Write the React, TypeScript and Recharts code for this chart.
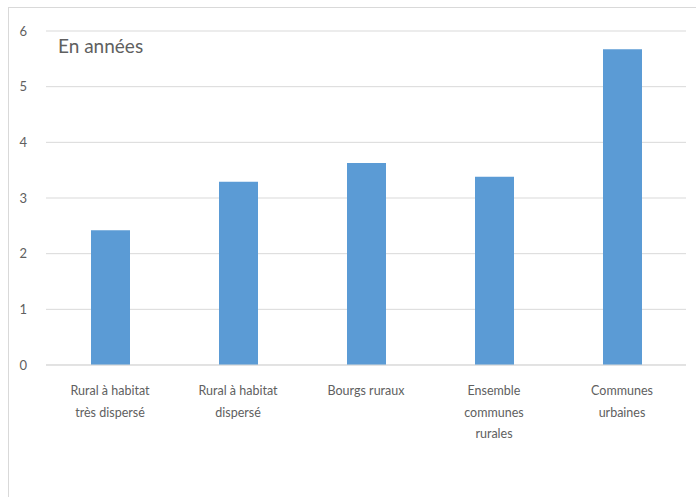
import { BarChart, Bar, XAxis, YAxis, CartesianGrid } from "recharts";

const categories = [
  "Rural à habitat\ntrès dispersé",
  "Rural à habitat\ndispersé",
  "Bourgs ruraux",
  "Ensemble\ncommunes\nrurales",
  "Communes\nurbaines",
];
const values = [2.42, 3.29, 3.63, 3.38, 5.67];
const yTicks = [0, 1, 2, 3, 4, 5, 6];
const unitLabel = "En années";

const FONT = "Lato, 'Open Sans', sans-serif";
const TEXT = "#606060";

const data = categories.map((c, i) => ({ cat: c, v: values[i] }));

function XTick(props: any) {
  const { x, y, payload } = props;
  const lines = String(payload.value).split("\n");
  return (
    <text x={x} y={y + 22} textAnchor="middle" fill={TEXT} fontSize={12.5} fontFamily={FONT}>
      {lines.map((l, i) => (
        <tspan key={i} x={x} dy={i === 0 ? 0 : 21.5}>
          {l}
        </tspan>
      ))}
    </text>
  );
}

function YTick(props: any) {
  const { y, payload } = props;
  return (
    <text x={27} y={y + 4.5} textAnchor="end" fill={TEXT} fontSize={13} fontFamily={FONT}>
      {payload.value}
    </text>
  );
}

export default function App() {
  return (
    <div style={{ position: "absolute", left: 0, top: 0, width: 696, height: 497, background: "#fff", overflow: "hidden" }}>
      <div style={{ position: "absolute", left: 8, top: 7, width: 720, height: 520, border: "1px solid #d9d9d9" }} />
      <div style={{ position: "absolute", left: 0, top: 0 }}>
        <BarChart width={696} height={497} data={data} margin={{ top: 31, right: 10, left: 0, bottom: 0 }}>
          <CartesianGrid vertical={false} stroke="#d9d9d9" />
          <XAxis
            dataKey="cat"
            height={132}
            axisLine={{ stroke: "#d9d9d9" }}
            tickLine={false}
            tick={<XTick />}
            interval={0}
          />
          <YAxis
            width={46}
            domain={[0, 6]}
            ticks={yTicks}
            axisLine={false}
            tickLine={false}
            tick={<YTick />}
          />
          <Bar dataKey="v" fill="#5b9bd5" barSize={39} isAnimationActive={false} />
        </BarChart>
      </div>
      <div style={{ position: "absolute", left: 58, top: 34, fontFamily: FONT, fontSize: 19, color: TEXT, lineHeight: "24px" }}>
        {unitLabel}
      </div>
    </div>
  );
}
